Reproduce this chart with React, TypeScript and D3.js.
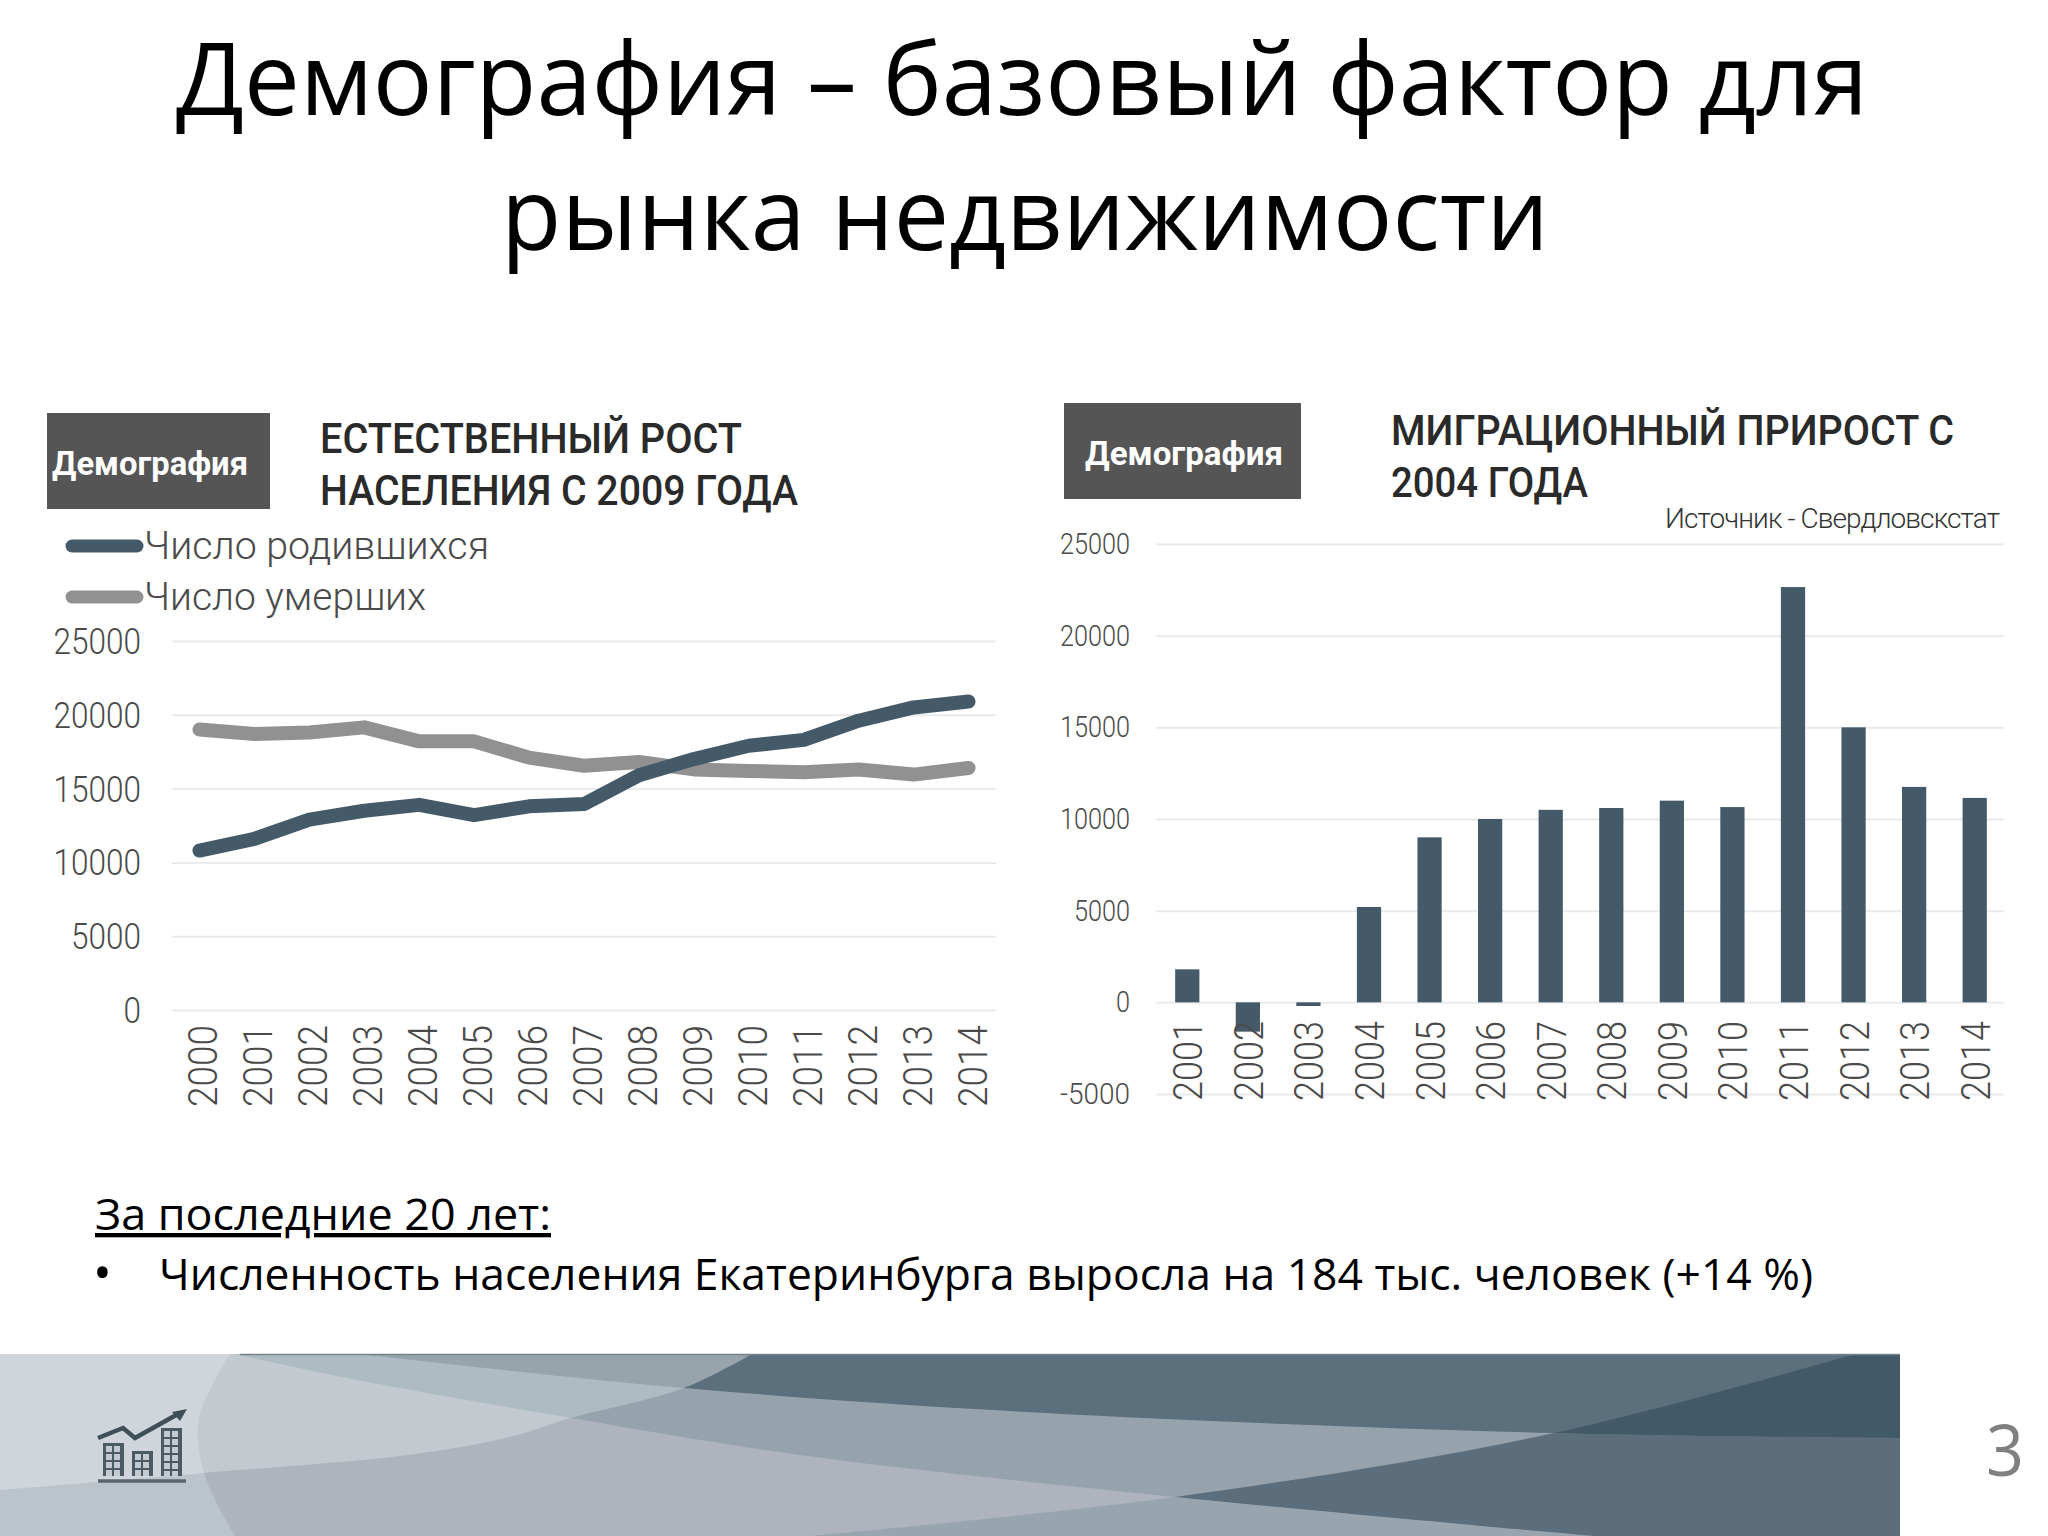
import React, { useRef, useEffect } from 'react';
import * as d3 from 'd3';

const lineYears = ['2000', '2001', '2002', '2003', '2004', '2005', '2006', '2007', '2008', '2009', '2010', '2011', '2012', '2013', '2014'];
const born = [10800, 11600, 12900, 13500, 13900, 13200, 13800, 13950, 15900, 17000, 17900, 18300, 19600, 20500, 20900];
const died = [19000, 18700, 18800, 19150, 18200, 18200, 17100, 16550, 16800, 16300, 16200, 16100, 16300, 15950, 16400];
const lineTicks = [0, 5000, 10000, 15000, 20000, 25000];

const barYears = ['2001', '2002', '2003', '2004', '2005', '2006', '2007', '2008', '2009', '2010', '2011', '2012', '2013', '2014'];
const migration = [1800, -1600, -200, 5200, 9000, 10000, 10500, 10600, 11000, 10650, 22650, 15000, 11750, 11150];
const barTicks = [-5000, 0, 5000, 10000, 15000, 20000, 25000];

const DARK = '#445a69';
const GREY = '#919191';
const GRID = '#e9eaec';
const LABEL = '#4a4a4a';
const HEAD = '#2a2a2a';
const NARROW = '"Roboto", sans-serif';
const BODY = '"Open Sans", "Noto Sans", sans-serif';

// curves of the footer banner
const curveB: [number, number][] = [[230, 1354], [199, 1418], [204, 1473], [235, 1536]];
const curve1: [number, number][] = [[0, 1490], [204, 1473], [408, 1455], [510, 1437], [571, 1418], [684, 1388], [752, 1354]];
const curve2: [number, number][] = [[235, 1354], [357, 1380], [571, 1418], [800, 1455], [1175, 1497], [1593, 1536]];
const curve3: [number, number][] = [[359, 1354], [684, 1388], [1045, 1413], [1554, 1433], [1900, 1438]];
const curve4: [number, number][] = [[810, 1536], [1175, 1497], [1554, 1433], [1855, 1354]];

const spline = d3.line().curve(d3.curveCatmullRom);
const closed = (pts: [number, number][], tail: string) => `${spline(pts)}${tail}Z`;
const areaB = closed(curveB, 'L1900 1536L1900 1354');
const area1 = closed(curve1, 'L1900 1354L1900 1536L0 1536');
const area2 = closed(curve2, 'L1900 1536L1900 1354');
const area3 = closed(curve3, 'L1900 1354');
const area4 = closed(curve4, 'L1900 1354L1900 1536');

const buildings = [
    { x: 103, y: 1443, w: 21, h: 33 },
    { x: 132, y: 1451, w: 21, h: 25 },
    { x: 161, y: 1428, w: 21, h: 48 },
];

const styleAxis = (g: any, size: number, len: number) => {
    g.select('.domain').remove();
    g.selectAll('.tick line').attr('stroke', GRID).attr('stroke-width', 2);
    g.selectAll('.tick text')
        .attr('font-family', NARROW)
        .attr('font-weight', 300)
        .attr('font-size', size)
        .attr('fill', LABEL)
        .attr('textLength', (d: any) => String(d).length * len)
        .attr('lengthAdjust', 'spacingAndGlyphs');
};

const Banner = () => (
    <g>
        <defs>
            <clipPath id="c1"><path d={area1} /></clipPath>
            <clipPath id="c4"><path d={area4} /></clipPath>
        </defs>
        <rect x={0} y={1354} width={1900} height={182} fill="#d0d5db" />
        <path d={areaB} fill="#c2c9cf" />
        <path d={area1} fill="#bbc4ca" />
        <path d={areaB} fill="#aeb3bd" clipPath="url(#c1)" />
        <path d={area4} fill="#98a5af" clipPath="url(#c1)" />
        <path d={area2} fill="#aebbc2" />
        <path d={area2} fill="#96a3ac" clipPath="url(#c1)" />
        <path d={area2} fill="#5c6d7b" clipPath="url(#c4)" />
        <path d={area3} fill="#98a4ac" />
        <path d={area3} fill="#5b6f7d" clipPath="url(#c1)" />
        <path d={area3} fill="#425a68" clipPath="url(#c4)" />
        <line x1={240} x2={1900} y1={1354.5} y2={1354.5} stroke="#77828a" strokeWidth={1.5} />
        {/* icon */}
        {buildings.map((b) => (
            <g key={b.x}>
                <rect x={b.x} y={b.y} width={b.w} height={b.h} fill="#4c5a63" />
                {d3.range(b.x + 3, b.x + b.w - 4, 8).flatMap((wx) =>
                    d3.range(b.y + 3, b.y + b.h - 4, 8).map((wy) => (
                        <rect key={`${wx}-${wy}`} x={wx} y={wy} width={6} height={6} fill="#c3cad0" />
                    )))}
            </g>
        ))}
        <path d="M98 1438L123 1428L135 1438L178 1414" stroke="#3f4f58" strokeWidth={4.5} fill="none" />
        <path d="M187 1409L172 1412L180 1421Z" fill="#3f4f58" />
        <path d="M98 1481H186" stroke="#5a666e" strokeWidth={3.5} />
    </g>
);

const App = () => {
    const lineRef = useRef<SVGGElement>(null);
    const barRef = useRef<SVGGElement>(null);

    useEffect(() => {
        const g = d3.select(lineRef.current);
        g.selectAll('*').remove();
        const x = d3.scaleBand().domain(lineYears).range([172, 996]);
        const y = d3.scaleLinear().domain([0, 25000]).range([1010, 641]);

        const yAxis = g.append('g').attr('transform', 'translate(172,0)')
            .call(d3.axisLeft(y).tickValues(lineTicks).tickSize(-824).tickPadding(31).tickFormat((d: any) => String(d)) as any);
        styleAxis(yAxis, 36, 17.5);
        yAxis.selectAll('.tick text').attr('y', 1);

        const xAxis = g.append('g').attr('transform', 'translate(0,1010)')
            .call(d3.axisBottom(x).tickSize(0) as any);
        styleAxis(xAxis, 41, 20.5);
        xAxis.selectAll('.tick text')
            .attr('text-anchor', 'end')
            .attr('transform', 'translate(18,15) rotate(-90)')
            .attr('dy', 0).attr('y', 0).attr('x', 0);

        const path = d3.line<number>()
            .x((_, i) => (x(lineYears[i]) as number) + x.bandwidth() / 2)
            .y((d) => y(d));
        g.append('path').attr('d', path(died)).attr('fill', 'none').attr('stroke', GREY)
            .attr('stroke-width', 14).attr('stroke-linecap', 'round').attr('stroke-linejoin', 'round');
        g.append('path').attr('d', path(born)).attr('fill', 'none').attr('stroke', DARK)
            .attr('stroke-width', 14).attr('stroke-linecap', 'round').attr('stroke-linejoin', 'round');
    }, []);

    useEffect(() => {
        const g = d3.select(barRef.current);
        g.selectAll('*').remove();
        const x = d3.scaleBand().domain(barYears).range([1157, 2005]).paddingInner(0.6).paddingOuter(0.3);
        const y = d3.scaleLinear().domain([-5000, 25000]).range([1094, 544]);

        const yAxis = g.append('g').attr('transform', 'translate(1156,0)')
            .call(d3.axisLeft(y).tickValues(barTicks).tickSize(-848).tickPadding(26).tickFormat((d: any) => String(d)) as any);
        styleAxis(yAxis, 30, 14);

        g.append('g').selectAll('rect').data(migration).join('rect')
            .attr('x', (_, i) => x(barYears[i]) as number)
            .attr('width', x.bandwidth())
            .attr('y', (d) => y(Math.max(0, d)))
            .attr('height', (d) => Math.abs(y(d) - y(0)))
            .attr('fill', DARK);

        const xAxis = g.append('g').attr('transform', 'translate(0,1002)')
            .call(d3.axisBottom(x).tickSize(0) as any);
        styleAxis(xAxis, 41, 20);
        xAxis.selectAll('.tick text')
            .attr('text-anchor', 'end')
            .attr('transform', 'translate(15,19) rotate(-90)')
            .attr('dy', 0).attr('y', 0).attr('x', 0);
    }, []);

    return (
        <svg width={2048} height={1536} viewBox="0 0 2048 1536"
            style={{ position: 'absolute', left: 0, top: 0, background: '#fff' }}>
            <text x={176} y={115} fontFamily={BODY} fontSize={100} textLength={1692} lengthAdjust="spacingAndGlyphs" fill="#000">Демография – базовый фактор для</text>
            <text x={501} y={250} fontFamily={BODY} fontSize={100} textLength={1048} lengthAdjust="spacingAndGlyphs" fill="#000">рынка недвижимости</text>

            <rect x={47} y={413} width={223} height={96} fill="#555" />
            <text x={52} y={475} fontFamily={NARROW} fontWeight="bold" fontSize={33} textLength={196} lengthAdjust="spacingAndGlyphs" fill="#fff">Демография</text>
            <text x={320} y={453} fontFamily={NARROW} fontWeight={500} fontSize={43} textLength={422} lengthAdjust="spacingAndGlyphs" fill={HEAD}>ЕСТЕСТВЕННЫЙ РОСТ</text>
            <text x={320} y={505} fontFamily={NARROW} fontWeight={500} fontSize={43} textLength={478} lengthAdjust="spacingAndGlyphs" fill={HEAD}>НАСЕЛЕНИЯ С 2009 ГОДА</text>

            <line x1={72} x2={137} y1={546} y2={546} stroke={DARK} strokeWidth={13} strokeLinecap="round" />
            <line x1={72} x2={137} y1={597} y2={597} stroke={GREY} strokeWidth={13} strokeLinecap="round" />
            <text x={144} y={559} fontFamily={NARROW} fontWeight={300} fontSize={39} textLength={345} lengthAdjust="spacingAndGlyphs" fill={LABEL}>Число родившихся</text>
            <text x={144} y={610} fontFamily={NARROW} fontWeight={300} fontSize={39} textLength={282} lengthAdjust="spacingAndGlyphs" fill={LABEL}>Число умерших</text>

            <g ref={lineRef} />

            <rect x={1064} y={403} width={237} height={96} fill="#555" />
            <text x={1085} y={465} fontFamily={NARROW} fontWeight="bold" fontSize={33} textLength={198} lengthAdjust="spacingAndGlyphs" fill="#fff">Демография</text>
            <text x={1391} y={445} fontFamily={NARROW} fontWeight={500} fontSize={43} textLength={563} lengthAdjust="spacingAndGlyphs" fill={HEAD}>МИГРАЦИОННЫЙ ПРИРОСТ С</text>
            <text x={1391} y={497} fontFamily={NARROW} fontWeight={500} fontSize={43} textLength={197} lengthAdjust="spacingAndGlyphs" fill={HEAD}>2004 ГОДА</text>
            <text x={1665} y={528} fontFamily={NARROW} fontWeight={300} fontSize={28} textLength={335} lengthAdjust="spacing" fill="#333">Источник - Свердловскстат</text>

            <g ref={barRef} />

            <text x={95} y={1230} fontFamily={BODY} fontSize={43} textLength={456} lengthAdjust="spacingAndGlyphs" textDecoration="underline" fill="#000">За последние 20 лет:</text>
            <text x={93} y={1290} fontFamily={BODY} fontSize={50} fill="#000">•</text>
            <text x={159} y={1290} fontFamily={BODY} fontSize={43} textLength={1654} lengthAdjust="spacingAndGlyphs" fill="#000">Численность населения Екатеринбурга выросла на 184 тыс. человек (+14 %)</text>

            <Banner />
            <text x={1986} y={1476} fontFamily={BODY} fontSize={72} textLength={38} lengthAdjust="spacingAndGlyphs" fill="#808080">3</text>
        </svg>
    );
};

export default App;
